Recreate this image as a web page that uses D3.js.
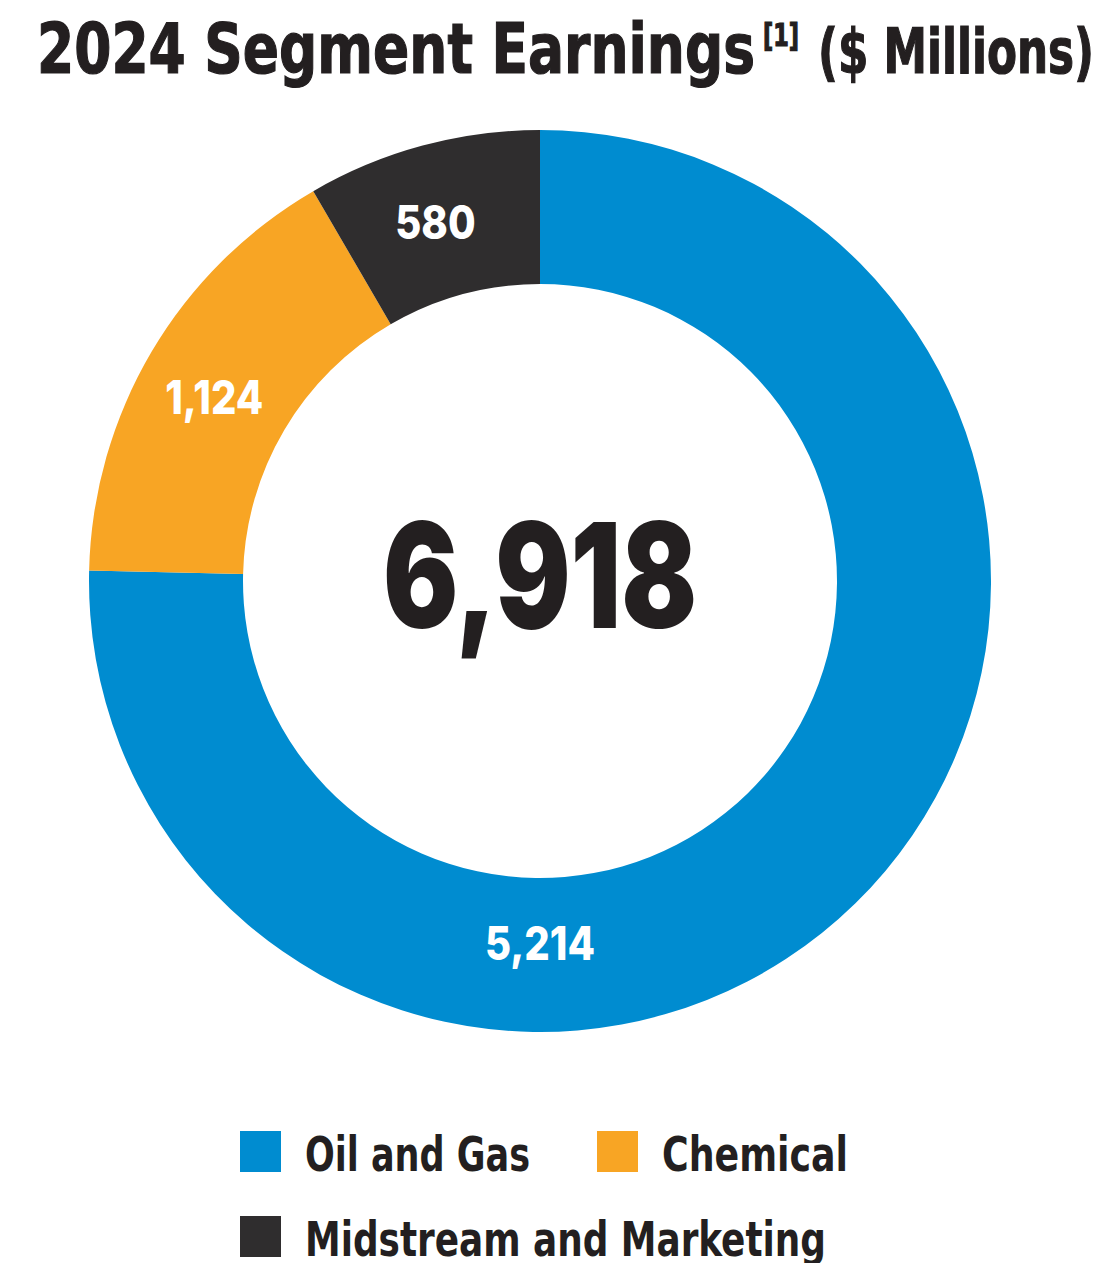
<!DOCTYPE html>
<html><head><meta charset="utf-8">
<script src="https://cdn.jsdelivr.net/npm/d3@7"></script>
<style>html,body{margin:0;padding:0;background:#fff;}svg{display:block;}</style>
</head><body>
<svg id="c" width="1103" height="1263"></svg>
<script>
const categories = ["Oil and Gas", "Chemical", "Midstream and Marketing"];
const values = [5214, 1124, 580];
const colors = ["#008cd0", "#f8a524", "#2f2d2e"];
const totalLabel = "6,918";
const titleMain = "2024 Segment Earnings";
const titleSup = "[1]";
const titleUnit = "($ Millions)";

const svg = d3.select("#c");
const ink = "#231f20";
const condensed = "'Liberation Sans Narrow','DejaVu Sans Condensed','Arial Narrow',sans-serif";
const heavy = "Inter,'Open Sans',Roboto,sans-serif";

// Title
const t = svg.append("g").attr("font-family", condensed).attr("font-weight", 700).attr("fill", ink)
  .attr("stroke", ink).attr("stroke-width", 1.2);
t.append("text").attr("x", 37).attr("y", 73).attr("font-size", 70)
  .attr("textLength", 718).attr("lengthAdjust", "spacingAndGlyphs").text(titleMain);
t.append("text").attr("x", 763).attr("y", 46).attr("font-size", 32)
  .attr("textLength", 36).attr("lengthAdjust", "spacingAndGlyphs").text(titleSup);
t.append("text").attr("x", 818).attr("y", 73).attr("font-size", 62)
  .attr("textLength", 276).attr("lengthAdjust", "spacingAndGlyphs").text(titleUnit);

// Donut
const cx = 540, cy = 581, rOuter = 451, rInner = 297;
const pie = d3.pie().sort(null).value(d => d.value);
const arcs = pie(categories.map((c, i) => ({cat: c, value: values[i], color: colors[i]})));
const arc = d3.arc().innerRadius(rInner).outerRadius(rOuter);
const g = svg.append("g").attr("transform", `translate(${cx},${cy})`);
g.selectAll("path").data(arcs).join("path").attr("d", arc).attr("fill", d => d.data.color);

const fmt = d3.format(",");
const labelR = (rInner + rOuter) / 2;
g.selectAll("text.lbl").data(arcs).join("text").attr("class", "lbl")
  .attr("text-anchor", "middle").attr("fill", "#fff")
  .attr("font-family", heavy).attr("font-weight", 800).attr("font-size", 46)
  .text(d => fmt(d.data.value))
  .each(function(d) {
    let a = (d.startAngle + d.endAngle) / 2 - 0.02;
    let r = labelR;
    if (d.startAngle <= Math.PI && d.endAngle >= Math.PI) { a = Math.PI; r = labelR - 12; }
    const w = this.getComputedTextLength();
    d3.select(this).attr("x", r * Math.sin(a)).attr("y", -r * Math.cos(a) + 17)
      .attr("textLength", w * 0.87).attr("lengthAdjust", "spacingAndGlyphs");
  });

g.append("text").attr("x", 0).attr("y", 47).attr("text-anchor", "middle")
  .attr("font-family", heavy).attr("font-weight", 900).attr("font-size", 146).attr("fill", ink)
  .attr("textLength", 314).attr("lengthAdjust", "spacingAndGlyphs")
  .text(totalLabel);

// Legend
const legendPos = [[240, 1131], [597, 1131], [240, 1216]];
const legendWidths = [225, 186, 521];
const lg = svg.append("g");
const items = lg.selectAll("g").data(categories).join("g")
  .attr("transform", (d, i) => `translate(${legendPos[i][0]},${legendPos[i][1]})`);
items.append("rect").attr("width", 41).attr("height", 41).attr("fill", (d, i) => colors[i]);
items.append("text").attr("x", 65).attr("y", 40)
  .attr("font-family", condensed).attr("font-weight", 700).attr("font-size", 48).attr("fill", ink)
  .attr("textLength", (d, i) => legendWidths[i]).attr("lengthAdjust", "spacingAndGlyphs")
  .text(d => d);
</script>
</body></html>
